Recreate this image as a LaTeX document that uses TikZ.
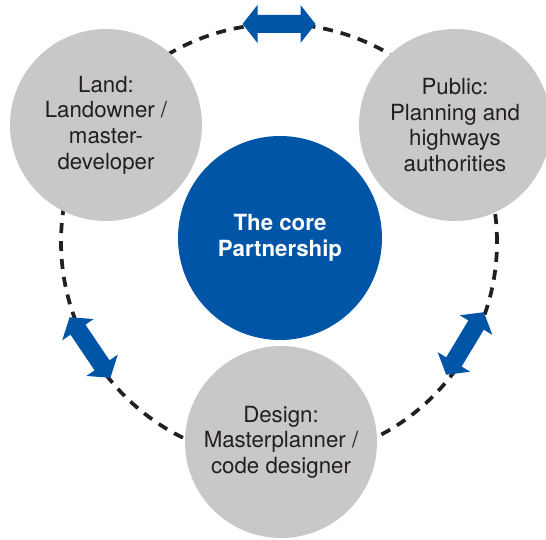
\documentclass[tikz,border=0pt]{standalone}
\usepackage{fontspec}
\setmainfont{TeX Gyre Heros}

\definecolor{partgrey}{HTML}{C9C8C9}
\definecolor{coreblue}{HTML}{0055A6}
\definecolor{inkdark}{HTML}{231F20}

\tikzset{
  partner/.style = {circle, fill=partgrey, minimum size=144pt, inner sep=0pt,
                    align=center, text=inkdark, font=\fontsize{16.7}{19.2}\selectfont},
  core/.style    = {circle, fill=coreblue, minimum size=153pt, inner sep=0pt,
                    align=center, text=white, font=\fontsize{16.7}{19.2}\selectfont\bfseries},
  link/.pic      = {\fill[coreblue] (-36.5,0) -- (-21.5,19) -- (-21.5,9) -- (21.5,9) -- (21.5,19)
                    -- (36.5,0) -- (21.5,-19) -- (21.5,-9) -- (-21.5,-9) -- (-21.5,-19) -- cycle;}
}

\begin{document}
\begin{tikzpicture}[x=0.75pt, y=0.75pt]
    \useasboundingbox (0,0) rectangle (546,539);

    % draw dashed ring
    \coordinate (ring) at (279,297);
    \draw[inkdark, line width=2.8pt, dash pattern=on 7.5pt off 6pt] (ring) circle[radius=218];

    % draw partner circles
    \node[partner] (land)   at (106,414) {Land:\\Landowner /\\master-\\developer};
    \node[partner] (public) at (455,414) {Public:\\Planning and\\highways\\authorities};
    \node[partner] (design) at (281,97)  {Design:\\Masterplanner /\\code designer};

    % draw core circle
    \node[core] (core) at (280,301) {The core\\Partnership};

    % draw arrows
    \pic[rotate=0]   (landpublic)   at (279,515)   {link};
    \pic[rotate=124] (landdesign)   at (90,191.5)  {link};
    \pic[rotate=59]  (publicdesign) at (465,195.5) {link};
\end{tikzpicture}
\end{document}
